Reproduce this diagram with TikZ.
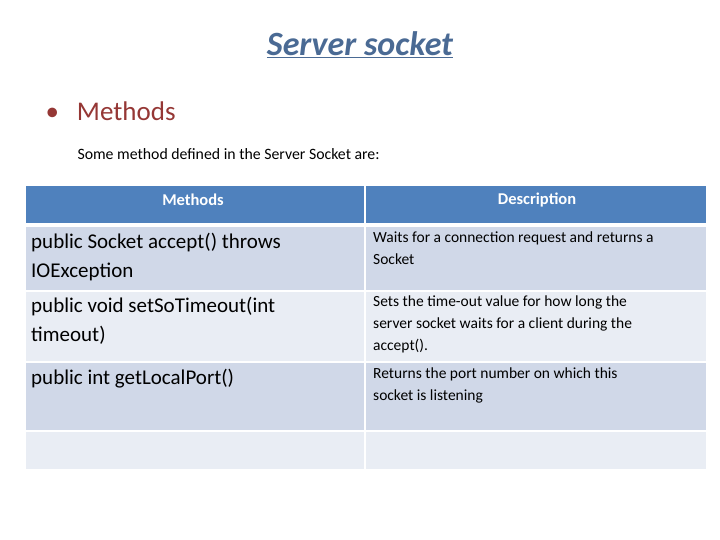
\documentclass[tikz,border=0pt]{standalone}
\usepackage{fontspec}
\setmainfont{Carlito}
\definecolor{headblue}{HTML}{4F81BD}
\definecolor{rowdark}{HTML}{D0D8E8}
\definecolor{rowlight}{HTML}{E9EDF4}
\definecolor{titleblue}{HTML}{4A6A94}
\definecolor{bulletred}{HTML}{953735}
\tikzset{
  cell/.style={draw=white, line width=2pt},
  methodtext/.style={anchor=north west, align=flush left, font=\fontsize{21}{29}\selectfont, inner sep=0pt},
  desctext/.style={anchor=north west, align=flush left, font=\fontsize{15.5}{22}\selectfont, inner sep=0pt},
  headtext/.style={text=white, font=\fontsize{16.5}{18}\selectfont\bfseries}
}
\begin{document}
\begin{tikzpicture}[x=1pt, y=-1pt]
    \useasboundingbox (0,0) rectangle (720,540);
    % Title and bullet
    \node (title) at (360,45) {\fontsize{34}{38}\selectfont\bfseries\itshape\color{titleblue}\underline{Server socket}};
    \node[anchor=west, text=bulletred, font=\fontsize{27}{30}\selectfont] (bullet) at (42,111) {•\hspace{18pt}Methods};
    \node[anchor=west, font=\fontsize{15.8}{18}\selectfont] (intro) at (74,154) {Some method defined in the Server Socket are:};

    % Header row
    \fill[headblue, cell] (25,185) rectangle (365,224);
    \fill[headblue, cell] (365,185) rectangle (707,224);
    \node[headtext] (hmeth) at (193,200) {Methods};
    \node[headtext] (hdesc) at (537,200) {Description};

    % Body rows
    \fill[rowdark, cell] (25,226) rectangle (365,291);
    \fill[rowdark, cell] (365,226) rectangle (707,291);
    \fill[rowlight, cell] (25,291) rectangle (365,362);
    \fill[rowlight, cell] (365,291) rectangle (707,362);
    \fill[rowdark, cell] (25,362) rectangle (365,431);
    \fill[rowdark, cell] (365,362) rectangle (707,431);
    \fill[rowlight, cell] (25,431) rectangle (365,470);
    \fill[rowlight, cell] (365,431) rectangle (707,470);

    \node[methodtext] (m1) at (31,233) {public Socket accept() throws\\IOException};
    \node[desctext] (d1) at (373,232) {Waits for a connection request and returns a\\Socket};
    \node[methodtext] (m2) at (31,297) {public void setSoTimeout(int\\timeout)};
    \node[desctext] (d2) at (373,296) {Sets the time-out value for how long the\\server socket waits for a client during the\\accept().};
    \node[methodtext] (m3) at (31,369) {public int getLocalPort()};
    \node[desctext] (d3) at (373,368) {Returns the port number on which this\\socket is listening};
\end{tikzpicture}
\end{document}
